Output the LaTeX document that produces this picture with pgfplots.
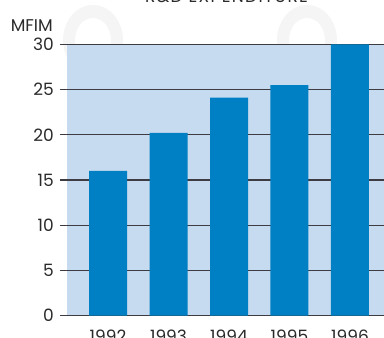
\documentclass[border=0pt]{standalone}
\usepackage{pgfplots}
\pgfplotsset{compat=1.18}
\usepackage{fontspec}
\setmainfont{Poppins}
\definecolor{barc}{HTML}{0080C4}
\definecolor{bgc}{HTML}{C6DBEF}
\definecolor{gridc}{HTML}{3C3C42}
\definecolor{txtc}{HTML}{2A2A2A}
\definecolor{wmc}{HTML}{F5F5F5}
\begin{document}
\begin{tikzpicture}
\useasboundingbox (0pt,0pt) rectangle (384pt,338pt);
\clip (0pt,0pt) rectangle (384pt,338pt);
\fill[wmc, even odd rule] (93pt,298pt) ellipse [x radius=30pt, y radius=35pt] (93pt,298pt) ellipse [x radius=18pt, y radius=22pt];
\fill[wmc, even odd rule] (307pt,298pt) ellipse [x radius=30pt, y radius=35pt] (307pt,298pt) ellipse [x radius=18pt, y radius=22pt];
\begin{axis}[
  at={(67pt,22.3pt)}, anchor=south west,
  scale only axis, width=324pt, height=271.4pt,
  xmin=-0.678, xmax=4.678, ymin=0, ymax=30,
  ytick={0,5,...,30}, ytick pos=left,
  xtick={0,1,2,3,4}, xticklabels={1992,1993,1994,1995,1996},
  xtick style={draw=none},
  ymajorgrids, grid style={line width=1.2pt, color=gridc},
  tick align=outside, major tick length=7pt,
  ytick style={line width=1.2pt, color=gridc},
  axis line style={draw=none},
  axis background/.style={fill=bgc},
  /pgf/number format/assume math mode=true,
  tick label style={font=\fontsize{17}{19}\selectfont, text=txtc},
  yticklabel style={inner sep=0pt, anchor=east, xshift=-6pt},
  xticklabel style={inner sep=0pt, anchor=base, yshift=-20pt},
  title={\addfontfeatures{LetterSpace=8}R\&D EXPENDITURE},
  title style={at={(axis description cs:0.4923,1)}, anchor=base, inner sep=0pt, yshift=36pt, font=\fontsize{17}{19}\selectfont, text=txtc},
  extra description/.code={\node[anchor=base east, inner sep=0pt, font=\fontsize{17}{19}\selectfont, text=txtc] at (-0.0432,1.049) {MFIM};},
]
\addplot[ybar, bar width=38pt, fill=barc, draw=none] coordinates {(0,16.0) (1,20.2) (2,24.1) (3,25.5) (4,30)};
\end{axis}
\end{tikzpicture}
\end{document}
